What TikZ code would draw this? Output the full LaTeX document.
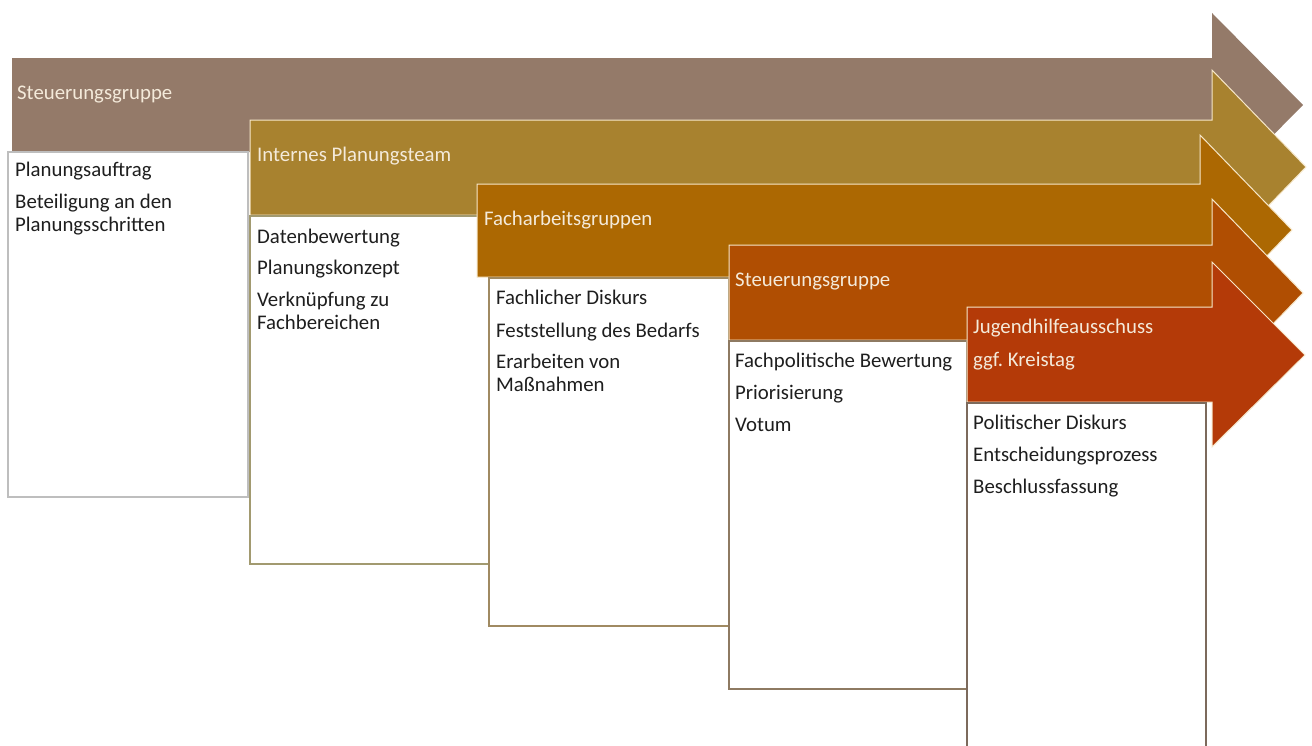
\documentclass[tikz,border=0pt]{standalone}
\usepackage{fontspec}
\setmainfont{Carlito}
\definecolor{arA}{HTML}{947A69}
\definecolor{arB}{HTML}{A8822F}
\definecolor{arC}{HTML}{AC6802}
\definecolor{arD}{HTML}{B04E02}
\definecolor{arE}{HTML}{B43A08}
\definecolor{hdtxt}{HTML}{F4EADA}
\definecolor{bodytxt}{HTML}{1E1E1E}
\definecolor{edgeA}{HTML}{BEBEBE}
\definecolor{edgeB}{HTML}{A29A70}
\definecolor{edgeC}{HTML}{A08A62}
\definecolor{edgeD}{HTML}{8E7A62}
\definecolor{edgeE}{HTML}{7C6A5C}
\definecolor{outl}{HTML}{F6E7C9}
\tikzset{
  arrowshape/.style={line width=1pt, draw=outl, line join=miter},
  panel/.style={fill=white, line width=1.4pt},
  hd/.style={anchor=base west, inner sep=0pt, text=hdtxt, font=\fontsize{20.8}{24}\selectfont},
  tx/.style={anchor=base west, inner sep=0pt, text=bodytxt, font=\fontsize{20.8}{24}\selectfont},
}
\begin{document}
\begin{tikzpicture}[x=1pt,y=-1pt]
\useasboundingbox (0,0) rectangle (1312,745);
\clip (0,0) rectangle (1312,745);
% arrow 1
\fill[arA] (12,58) -- (1212,58) -- (1212,13) -- (1303,105) -- (1212,197) -- (1212,152) -- (12,152) -- cycle;
\node[hd] (h1) at (17,99) {Steuerungsgruppe};
\draw[panel, draw=edgeA] (8,152) rectangle (248,497);
\node[tx] (t11) at (15,176) {Planungsauftrag};
\node[tx] (t12) at (15,208) {Beteiligung an den};
\node[tx] (t13) at (15,231) {Planungsschritten};
% arrow 2
\filldraw[arrowshape, fill=arB] (250,120) -- (1212,120) -- (1212,70) -- (1306,167) -- (1212,264) -- (1212,215) -- (250,215) -- cycle;
\node[hd] (h2) at (257,161) {Internes Planungsteam};
\draw[panel, draw=edgeB] (250,216) rectangle (489,564);
\node[tx] (t21) at (257,243) {Datenbewertung};
\node[tx] (t22) at (257,274) {Planungskonzept};
\node[tx] (t23) at (257,306) {Verknüpfung zu};
\node[tx] (t24) at (257,329) {Fachbereichen};
% arrow 3
\filldraw[arrowshape, fill=arC] (477,184) -- (1200,184) -- (1200,135) -- (1292,230) -- (1200,325) -- (1200,277) -- (477,277) -- cycle;
\node[hd] (h3) at (484,225) {Facharbeitsgruppen};
\draw[panel, draw=edgeC] (489,278) rectangle (729,626);
\node[tx] (t31) at (496,304) {Fachlicher Diskurs};
\node[tx] (t32) at (496,337) {Feststellung des Bedarfs};
\node[tx] (t33) at (496,368) {Erarbeiten von};
\node[tx] (t34) at (496,391) {Maßnahmen};
% arrow 4
\filldraw[arrowshape, fill=arD] (729,245) -- (1212,245) -- (1212,199) -- (1303,293) -- (1212,387) -- (1212,340) -- (729,340) -- cycle;
\node[hd] (h4) at (735,286) {Steuerungsgruppe};
\draw[panel, draw=edgeD] (729,341) rectangle (967,689);
\node[tx] (t41) at (735,367) {Fachpolitische Bewertung};
\node[tx] (t42) at (735,399) {Priorisierung};
\node[tx] (t43) at (735,431) {Votum};
% arrow 5
\filldraw[arrowshape, fill=arE] (967,307) -- (1212,307) -- (1212,262) -- (1305,355) -- (1212,447) -- (1212,402) -- (967,402) -- cycle;
\node[hd] (h5) at (973,333) {Jugendhilfeausschuss};
\node[hd] (h6) at (973,366) {ggf.\ Kreistag};
\draw[panel, draw=edgeE] (967,403) rectangle (1206,760);
\node[tx] (t51) at (973,429) {Politischer Diskurs};
\node[tx] (t52) at (973,461) {Entscheidungsprozess};
\node[tx] (t53) at (973,493) {Beschlussfassung};
\end{tikzpicture}
\end{document}
